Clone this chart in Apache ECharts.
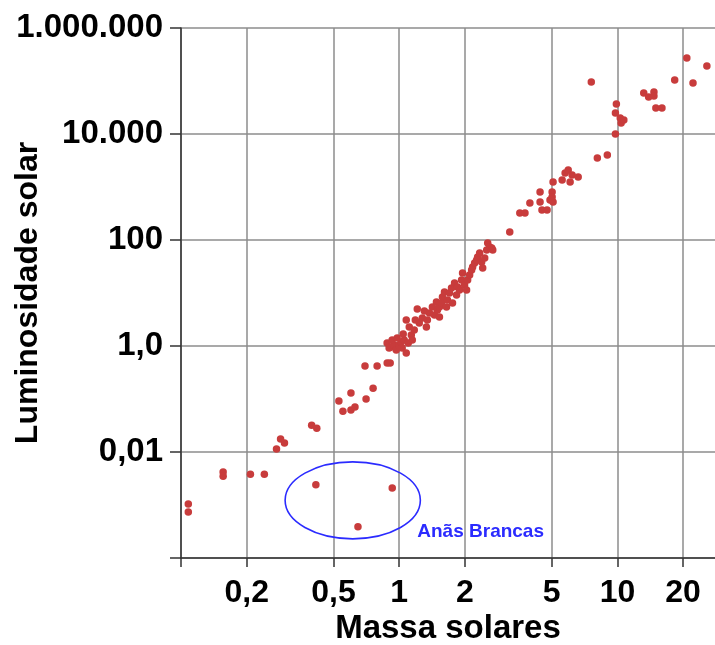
<!DOCTYPE html>
<html>
<head>
<meta charset="utf-8">
<script src="https://cdn.jsdelivr.net/npm/echarts@6/dist/echarts.min.js"></script>
<style>
  html, body { margin: 0; padding: 0; background: #fff; }
  #chart { width: 715px; height: 645px; }
</style>
</head>
<body>
<div id="chart"></div>
<script>
// massa (em massas solares) e luminosidade (em luminosidades solares)
const massas = [
  0.108, 0.108, 0.156, 0.156, 0.208, 0.241, 0.274, 0.286, 0.298, 0.397, 0.419,
  0.529, 0.552, 0.601, 0.627, 0.601, 0.705, 0.759, 0.697, 0.792, 0.881, 0.909,
  0.88, 0.919, 0.899, 0.948, 0.969, 1.0, 1.021, 1.032, 1.077, 1.054, 1.077, 1.112,
  1.172, 1.21, 1.236, 1.276, 1.332, 1.346, 1.375, 1.419, 1.45, 1.481, 1.497, 1.529,
  0.928, 1.10, 1.185, 1.304, 0.979, 1.136, 1.043, 1.148,
  1.529, 1.561, 1.578, 1.612, 1.647, 1.664, 1.70, 1.736, 1.755, 1.793, 1.831, 1.851,
  1.89, 1.931, 1.951, 1.993, 2.036, 2.058, 2.102, 2.147, 2.17, 2.216, 2.264, 2.288,
  2.337, 2.387, 2.413, 2.465, 2.517, 2.544, 2.598, 2.655, 2.683,
  3.21, 3.57, 3.77, 3.97, 4.42, 4.42, 4.51, 4.76, 4.91, 5.02, 5.07, 5.02, 5.07,
  5.58, 5.76, 5.95, 6.07, 6.2, 6.61, 8.09, 8.99, 9.79, 9.89, 9.79, 10.3, 10.4, 10.7,
  7.59, 13.2, 13.9, 14.7, 14.7, 15.0, 16.0, 18.3, 20.8, 22.2, 25.7
];
const luminosidades = [
  0.00104, 0.00074, 0.0042, 0.0035, 0.0038, 0.0038, 0.0114, 0.0176, 0.0148, 0.032, 0.028,
  0.092, 0.059, 0.062, 0.071, 0.13, 0.10, 0.16, 0.42, 0.42, 0.48, 0.48,
  1.14, 0.96, 0.917, 1.04, 0.84, 1.04, 1.19, 0.917, 0.738, 1.30, 3.09, 2.28,
  2.0, 4.99, 2.72, 3.38, 2.28, 3.09, 4.2, 5.44, 3.85, 6.76, 4.78, 3.53,
  1.30, 1.14, 3.09, 4.58, 1.42, 1.61, 1.68, 1.30,
  5.44, 6.48, 8.41, 10.4, 5.44, 7.38, 10.0, 12.4, 6.48, 15.4, 9.17, 13.0,
  11.4, 17.6, 23.8, 14.2, 11.4, 17.6, 21.9, 27.2, 30.9, 36.8, 41.9, 47.8,
  56.9, 38.5, 29.6, 45.7, 64.8, 87.8, 73.8, 70.6, 64.8,
  141, 323, 323, 499, 805, 521, 368, 368, 569, 805, 521, 648, 1243,
  1355, 1837, 2094, 1243, 1684, 1545, 3525, 4018, 10000, 36800, 24900, 20000, 16100, 18400,
  95700, 59400, 49900, 62000, 52100, 31000, 31000, 104000, 272000, 91600, 192000
];

// anãs brancas
const anasMassas = [0.415, 0.647, 0.929];
const anasLum = [0.0024, 0.00039, 0.0021];

// elipse em torno das anãs brancas (limites em massa e luminosidade) e rótulo
const elipseMassa = [0.30, 1.25];
const elipseLum = [0.00023, 0.0065];
const rotuloAnas = [1.21, 0.00031];

// eixos
const xTicks = [0.1, 0.2, 0.5, 1, 2, 5, 10, 20];
const xRotulos = ['', '0,2', '0,5', '1', '2', '5', '10', '20'];
const yTicks = [0.0001, 0.01, 1, 100, 10000, 1000000];
const yRotulos = ['', '0,01', '1,0', '100', '10.000', '1.000.000'];

const fonte = '"Liberation Sans", Arial, Helvetica, sans-serif';

function rotulo(ticks, rotulos) {
  return (v) => {
    const i = ticks.findIndex((t) => Math.abs(Math.log10(t) - Math.log10(v)) < 0.01);
    return i >= 0 ? rotulos[i] : '';
  };
}

const chart = echarts.init(document.getElementById('chart'));
chart.setOption({
  backgroundColor: '#fff',
  animation: false,
  grid: {
    left: 181,
    right: 0,
    top: 28,
    bottom: 87,
    containLabel: false,
    outerBoundsMode: 'none'
  },
  xAxis: {
    type: 'log',
    logBase: 10,
    min: 0.1,
    max: 28,
    name: 'Massa solares',
    nameLocation: 'middle',
    nameGap: 54,
    nameMoveOverlap: false,
    nameTextStyle: { color: '#000', fontSize: 33, fontWeight: 'bold', fontFamily: fonte },
    axisLine: { show: true, lineStyle: { color: '#333', width: 1.5 } },
    axisTick: { show: true, length: 9, customValues: xTicks, lineStyle: { color: '#333', width: 1.5 } },
    axisLabel: {
      customValues: xTicks.slice(1),
      formatter: rotulo(xTicks, xRotulos),
      color: '#000',
      fontSize: 32,
      fontWeight: 'bold',
      fontFamily: fonte,
      margin: 19
    },
    splitLine: { show: true, lineStyle: { color: '#8c8c8c', width: 1.5 } },
    minorTick: { show: false },
    minorSplitLine: { show: false }
  },
  yAxis: {
    type: 'log',
    logBase: 10,
    min: 0.0001,
    max: 1000000,
    name: 'Luminosidade solar',
    nameLocation: 'middle',
    nameGap: 137,
    nameRotate: 90,
    nameMoveOverlap: false,
    nameTextStyle: { color: '#000', fontSize: 32, fontWeight: 'bold', fontFamily: fonte },
    axisLine: { show: true, lineStyle: { color: '#333', width: 1.5 } },
    axisTick: { show: true, length: 11, customValues: yTicks, lineStyle: { color: '#333', width: 1.5 } },
    axisLabel: {
      customValues: yTicks.slice(1),
      formatter: rotulo(yTicks, yRotulos),
      color: '#000',
      fontSize: 33,
      fontWeight: 'bold',
      fontFamily: fonte,
      margin: 18
    },
    splitLine: { show: true, lineStyle: { color: '#8c8c8c', width: 1.5 } }
  },
  series: [
    {
      type: 'scatter',
      symbol: 'circle',
      symbolSize: 7.5,
      itemStyle: { color: '#c83c3c', opacity: 1 },
      data: massas.map((m, i) => [m, luminosidades[i]])
    },
    {
      type: 'scatter',
      symbol: 'circle',
      symbolSize: 7.5,
      itemStyle: { color: '#c83c3c', opacity: 1 },
      data: anasMassas.map((m, i) => [m, anasLum[i]])
    },
    {
      type: 'custom',
      clip: false,
      silent: true,
      data: [[elipseMassa[0], elipseLum[0]]],
      renderItem: (params, api) => {
        const p1 = api.coord([elipseMassa[0], elipseLum[1]]);
        const p2 = api.coord([elipseMassa[1], elipseLum[0]]);
        const t = api.coord(rotuloAnas);
        return {
          type: 'group',
          children: [
            {
              type: 'ellipse',
              shape: {
                cx: (p1[0] + p2[0]) / 2,
                cy: (p1[1] + p2[1]) / 2,
                rx: (p2[0] - p1[0]) / 2,
                ry: (p2[1] - p1[1]) / 2
              },
              style: { fill: 'none', stroke: '#2b2bff', lineWidth: 1.6 }
            },
            {
              type: 'text',
              x: t[0],
              y: t[1],
              style: {
                text: 'Anãs Brancas',
                fill: '#2b2bff',
                font: 'bold 19px ' + fonte,
                verticalAlign: 'middle',
                align: 'left'
              }
            }
          ]
        };
      }
    }
  ]
});
</script>
</body>
</html>
